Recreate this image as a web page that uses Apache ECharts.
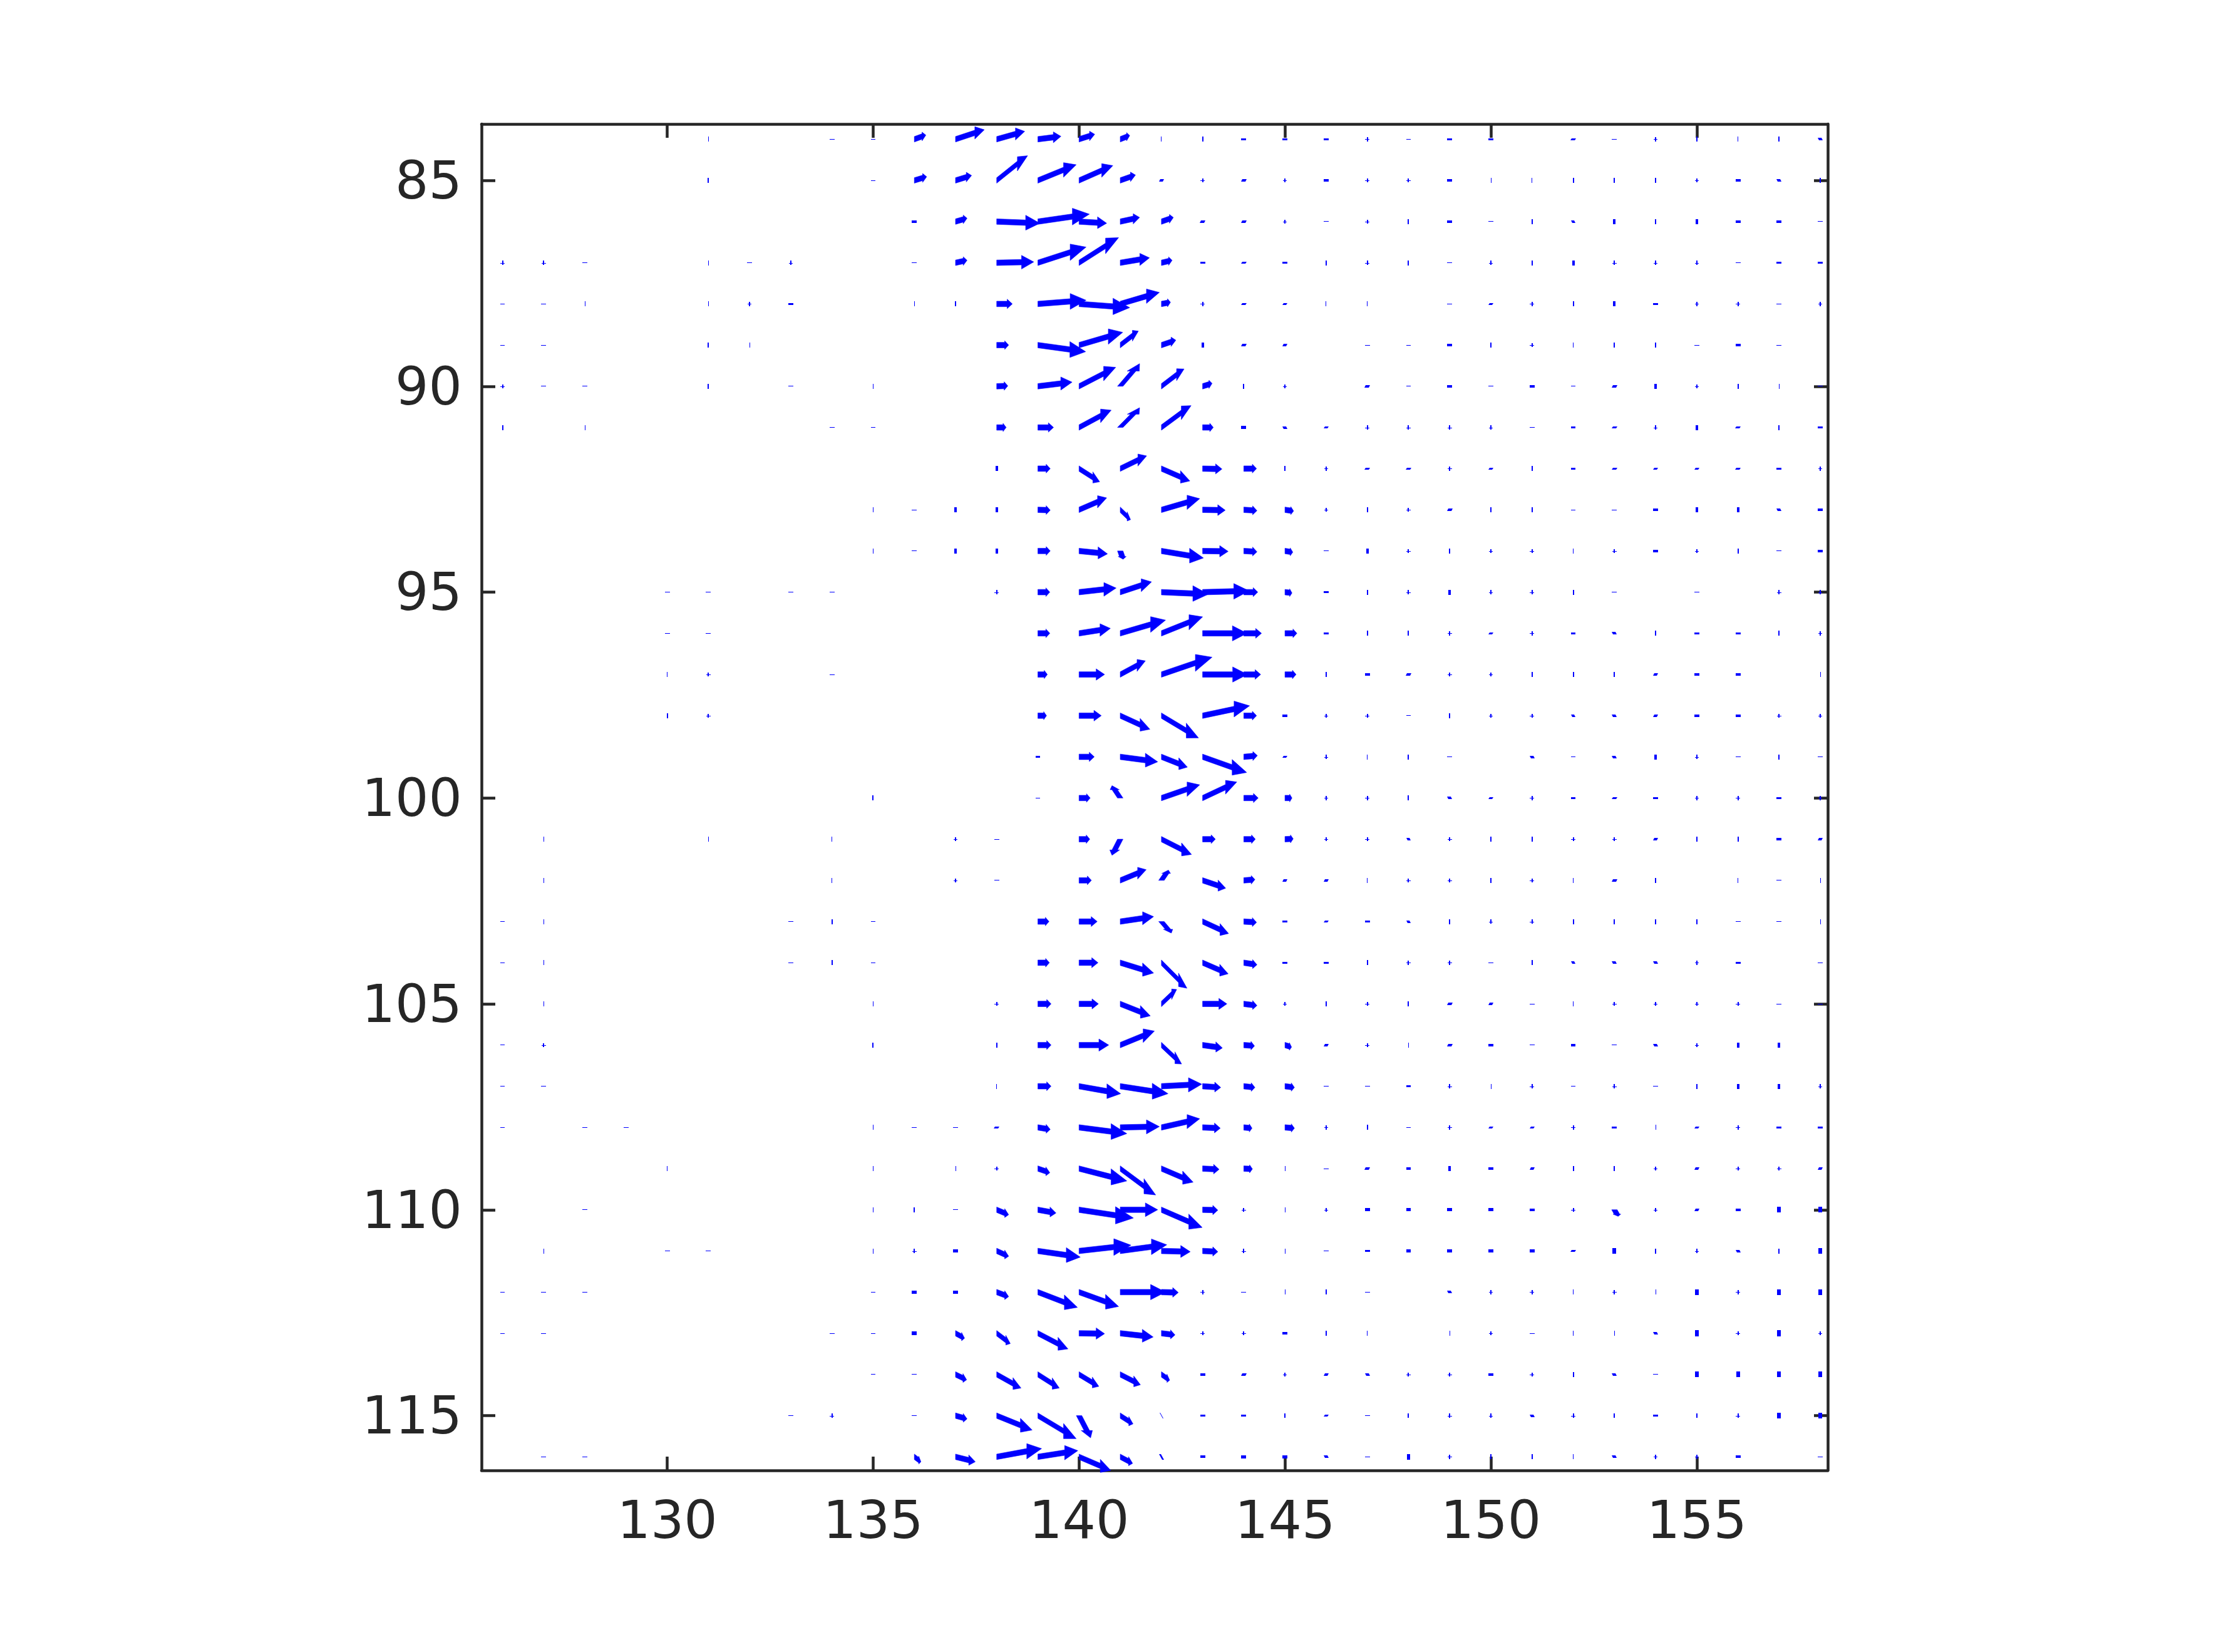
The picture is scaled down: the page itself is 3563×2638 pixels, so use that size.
<!DOCTYPE html>
<html><head><meta charset="utf-8">
<style>html,body{margin:0;padding:0;background:#fff}#c{width:3563px;height:2638px}</style>
<script src="https://cdn.jsdelivr.net/npm/echarts@6/dist/echarts.min.js"></script>
</head><body><div id="c"></div>
<script>
// Small vectors, in axis degrees [u, v]
const d=[.12,.015], b=[.015,.12], B=[.03,.12], s=[.12,.055], Q=[.12,.08], T=[.06,.12], U=[.09,.14], n=[.13,-.055], e=[-.12,.06], c=[.1,.1];

const xTicks=[130,135,140,145,150,155];
const yTicks=[85,90,95,100,105,110,115];
const xRange=[125.49,158.18];
const yRange=[83.63,116.33];

const lat84=[[131,b],[134,d],[135,d],[136,.28,-.10],[137,.70,-.23],[138,.68,-.19],[139,.56,-.07],[140,.38,-.12],[141,.23,-.09],[142,b],[143,B],[144,s],[145,s],[146,s],[147,c],[148,d],[149,s],[150,s],[152,n],[153,d],[154,c],[155,B],[156,b],[157,B],[158,e]];
const lat85=[[131,B],[135,d],[136,.30,-.09],[137,.39,-.12],[138,.75,-.60],[139,.93,-.38],[140,.82,-.36],[141,.37,-.13],[142,n],[143,c],[144,n],[145,c],[146,s],[147,c],[148,c],[149,s],[150,b],[151,b],[152,B],[153,B],[154,B],[155,c],[156,s],[157,e],[158,B]];
const lat86=[[136,s],[137,.28,-.08],[138,1.05,.04],[139,1.25,-.18],[140,.67,.04],[141,.47,-.10],[142,.29,-.10],[143,n],[144,n],[145,c],[146,d],[147,c],[148,B],[149,s],[150,d],[151,B],[152,e],[153,T],[154,B],[155,T],[156,s],[157,s],[158,d]];
const lat87=[[126,c],[127,c],[128,d],[131,b],[132,d],[133,c],[136,d],[137,.28,-.06],[138,.90,-.02],[139,1.17,-.38],[140,.96,-.61],[141,.71,-.12],[142,.26,-.06],[143,s],[144,n],[145,s],[146,B],[147,c],[148,B],[149,d],[150,c],[151,B],[152,T],[153,c],[154,c],[155,c],[156,d],[157,s],[158,s]];
const lat88=[[126,d],[127,d],[128,b],[131,b],[132,c],[133,s],[136,b],[137,B],[138,.38,0],[139,1.17,-.09],[140,1.23,.09],[141,.95,-.28],[142,.22,-.04],[143,c],[144,n],[145,n],[146,b],[147,b],[149,d],[150,n],[151,c],[152,B],[153,T],[154,s],[155,c],[156,c],[157,d],[158,c]];
const lat89=[[126,d],[127,d],[131,B],[132,b],[138,.29,0],[139,1.16,.16],[140,1.06,-.31],[141,.44,-.34],[142,.35,-.12],[143,T],[144,n],[145,n],[147,d],[148,d],[149,s],[150,B],[151,c],[152,b],[153,B],[154,B],[155,d],[156,s],[157,d]];
const lat90=[[126,c],[127,d],[128,d],[131,B],[133,d],[135,b],[138,.27,-.01],[139,.83,-.10],[140,.89,-.46],[141,.47,-.55],[142,.55,-.42],[143,.23,-.07],[144,B],[145,c],[147,n],[148,d],[149,s],[150,d],[151,s],[152,d],[153,n],[154,T],[155,c],[156,B],[157,b],[158,d]];
const lat91=[[126,B],[128,b],[134,d],[135,d],[138,.23,0],[139,.38,0],[140,.78,-.42],[141,.47,-.48],[142,.72,-.53],[143,.26,0],[144,Q],[145,e],[146,n],[147,c],[148,c],[149,c],[150,c],[151,d],[152,s],[153,n],[154,c],[155,T],[156,n],[157,B],[158,s]];
const lat92=[[138,T],[139,.30,0],[140,.50,.32],[141,.64,-.31],[142,.69,.30],[143,.47,.01],[144,.31,0],[145,B],[146,c],[147,n],[148,n],[149,c],[150,n],[151,B],[152,s],[153,n],[154,n],[155,n],[156,n],[157,s],[158,c]];
const lat93=[[135,b],[136,d],[137,T],[138,T],[139,.30,.01],[140,.67,-.29],[141,.25,.24],[142,.93,-.27],[143,.55,.01],[144,.32,.02],[145,.21,.03],[146,c],[147,B],[148,c],[149,n],[150,B],[151,B],[152,d],[153,d],[154,s],[155,T],[156,T],[157,e],[158,s]];
const lat94=[[135,b],[136,d],[137,T],[138,T],[139,.30,0],[140,.69,.07],[141,.07,.2],[142,1.02,.17],[143,.62,.01],[144,.32,.02],[145,.19,.03],[146,d],[147,T],[148,c],[149,B],[150,c],[151,c],[152,b],[153,c],[154,s],[155,c],[156,B],[157,d],[158,s]];
const lat95=[[130,d],[131,d],[133,d],[134,d],[138,c],[139,.29,0],[140,.90,-.10],[141,.76,-.25],[142,1.14,.05],[143,1.13,-.03],[144,.34,0],[145,.17,.02],[146,s],[147,B],[148,c],[149,T],[150,c],[151,c],[152,B],[153,d],[155,d],[157,c],[158,c]];
const lat96=[[130,d],[131,d],[139,.29,0],[140,.76,-.12],[141,1.10,-.32],[142,1.00,-.40],[143,1.08,0],[144,.43,0],[145,.29,0],[146,s],[147,B],[148,B],[149,c],[150,n],[151,c],[152,s],[153,e],[154,B],[155,s],[156,s],[157,B],[158,c]];
const lat97=[[130,b],[131,c],[134,d],[139,.23,0],[140,.62,0],[141,.61,-.33],[142,1.23,-.42],[143,1.09,0],[144,.41,0],[145,.27,0],[146,B],[147,s],[148,n],[149,c],[150,c],[151,B],[152,B],[153,B],[154,n],[155,s],[156,s],[158,b]];
const lat98=[[130,B],[131,c],[139,.21,0],[140,.54,0],[141,.72,.33],[142,.90,.54],[143,1.14,-.24],[144,.31,0],[145,s],[146,c],[147,c],[148,d],[149,B],[150,c],[151,c],[152,e],[153,e],[154,n],[155,s],[156,s],[157,c],[158,c]];
const lat99=[[139,s],[140,.37,0],[141,.91,.12],[142,.63,.25],[143,1.07,.38],[144,.33,-.03],[145,n],[146,c],[147,b],[148,B],[149,d],[151,e],[152,d],[153,e],[154,T],[155,c],[156,d],[157,B],[158,d]];
const lat100=[[135,B],[139,d],[140,.27,0],[141,-.20,-.30],[142,.93,-.32],[143,.83,-.39],[144,.35,0],[145,.17,0],[146,c],[147,c],[148,B],[149,e],[150,n],[151,c],[152,s],[153,n],[154,s],[155,c],[156,c],[157,s],[158,c]];
const lat101=[[127,b],[131,b],[134,b],[137,c],[138,d],[140,.26,0],[141,-.20,.39],[142,.73,.37],[143,.31,0],[144,.28,0],[145,.20,-.01],[146,c],[147,c],[148,e],[149,c],[150,B],[151,B],[152,c],[153,c],[154,n],[155,B],[156,B],[157,s],[158,n]];
const lat102=[[127,b],[134,b],[137,c],[138,d],[140,.30,0],[141,.63,-.26],[142,.17,-.25],[143,.56,.19],[144,.27,-.02],[145,n],[146,n],[147,b],[148,c],[149,c],[150,B],[151,c],[152,b],[153,n],[154,B],[156,b],[157,d],[158,b]];
const lat103=[[126,d],[127,b],[133,d],[134,B],[135,d],[139,.27,0],[140,.44,0],[141,.81,-.12],[142,.24,.28],[143,.63,.29],[144,.31,.02],[145,s],[146,n],[147,s],[148,e],[149,B],[150,c],[151,c],[152,B],[153,B],[154,B],[155,B],[156,d],[157,d],[158,b]];
const lat104=[[126,d],[127,b],[133,d],[134,B],[135,d],[139,.28,0],[140,.46,0],[141,.81,.25],[142,.62,.62],[143,.62,.27],[144,.32,.05],[145,s],[146,s],[147,B],[148,c],[149,c],[150,d],[151,B],[152,e],[153,e],[154,e],[155,c],[156,s],[158,d]];
const lat105=[[127,b],[135,b],[138,c],[139,.32,0],[140,.47,0],[141,.73,.29],[142,.37,-.35],[143,.59,0],[144,.32,.04],[145,c],[146,B],[147,c],[148,B],[149,n],[150,n],[151,d],[152,b],[153,c],[154,c],[155,c],[156,c],[157,d],[158,d]];
const lat106=[[126,d],[127,c],[135,B],[138,B],[139,.32,0],[140,.72,0],[141,.83,-.34],[142,.49,.46],[143,.48,.07],[144,.26,.02],[145,.16,.05],[146,n],[147,c],[148,b],[149,n],[150,s],[151,d],[152,s],[153,d],[154,e],[155,c],[156,T],[157,T]];
const lat107=[[126,d],[127,d],[138,b],[139,.32,0],[140,1.01,.18],[141,1.16,.18],[142,.98,-.05],[143,.44,.03],[144,.27,.03],[145,.23,.03],[146,d],[147,d],[148,s],[149,c],[150,b],[151,c],[152,d],[153,c],[154,d],[155,B],[156,T],[157,T],[158,c]];
const lat108=[[126,d],[128,d],[129,d],[135,b],[136,d],[137,d],[138,n],[139,.30,.05],[140,1.16,.15],[141,.95,-.02],[142,.93,-.21],[143,.43,.02],[144,.20,.02],[145,.23,.02],[146,c],[147,B],[148,d],[149,c],[150,n],[151,n],[152,c],[153,s],[154,b],[155,n],[156,c],[157,s],[158,s]];
const lat109=[[130,b],[135,b],[137,b],[138,c],[139,.29,.10],[140,1.16,.30],[141,.86,.64],[142,.77,.33],[143,.40,.02],[144,.21,.01],[145,b],[146,d],[147,n],[148,s],[149,T],[150,s],[151,n],[152,B],[153,B],[154,c],[155,n],[156,c],[157,c],[158,n]];
const lat110=[[128,d],[135,b],[136,B],[137,d],[138,.29,.12],[139,.44,.08],[140,1.32,.20],[141,.91,0],[142,.99,.43],[143,.37,.01],[144,c],[145,b],[146,c],[147,Q],[148,Q],[149,Q],[150,Q],[151,s],[152,c],[153,.09,.16],[154,c],[155,n],[156,s],[157,U],[158,U]];
const lat111=[[127,b],[130,d],[131,d],[135,b],[136,c],[137,Q],[138,.29,.13],[139,1.03,.15],[140,1.26,-.14],[141,1.13,-.15],[142,.70,.02],[143,.37,.02],[144,c],[145,b],[146,d],[147,s],[148,Q],[149,Q],[150,Q],[151,Q],[152,n],[153,U],[154,B],[155,c],[156,e],[157,B],[158,U]];
const lat112=[[126,d],[127,d],[128,d],[135,d],[136,Q],[137,Q],[138,.29,.11],[139,.96,.37],[140,.96,.35],[141,1.10,0],[142,.41,.01],[143,c],[144,d],[145,b],[146,B],[147,d],[149,e],[150,c],[151,c],[152,b],[153,c],[154,b],[155,U],[156,c],[157,U],[158,U]];
const lat113=[[126,d],[127,d],[134,d],[135,d],[136,Q],[137,.22,.12],[138,.33,.25],[139,.73,.38],[140,.62,.01],[141,.80,.09],[142,.33,.04],[143,c],[144,c],[145,s],[146,B],[147,b],[149,b],[150,c],[151,d],[152,b],[153,b],[154,e],[155,U],[156,c],[157,U],[158,c]];
const lat114=[[135,d],[136,d],[137,.27,.13],[138,.59,.33],[139,.52,.33],[140,.48,.29],[141,.49,.25],[142,.20,.14],[143,s],[144,n],[145,c],[146,n],[147,e],[148,c],[149,c],[150,s],[151,c],[152,B],[153,e],[154,d],[155,U],[156,U],[157,U],[158,U]];
const lat115=[[133,d],[134,c],[136,d],[137,.28,.08],[138,.86,.35],[139,.93,.56],[140,.28,.54],[141,.31,.20],[142,-.10,.14],[143,s],[144,s],[145,B],[146,n],[147,d],[148,B],[149,c],[150,c],[151,e],[152,c],[153,B],[154,s],[155,B],[156,c],[157,U],[158,U]];
const lat116=[[127,d],[128,d],[136,.16,.12],[137,.48,.12],[138,1.09,-.20],[139,.97,-.15],[140,.77,.33],[141,.30,.16],[142,-.12,.14],[143,s],[144,Q],[145,Q],[146,e],[147,d],[148,U],[149,c],[150,B],[151,B],[152,b],[153,e],[154,c],[155,c],[156,s],[158,d]];

const rows=[lat84,lat85,lat86,lat87,lat88,lat89,lat90,lat91,lat92,lat93,lat94,lat95,lat96,lat97,lat98,lat99,lat100,lat101,lat102,lat103,lat104,lat105,lat106,lat107,lat108,lat109,lat110,lat111,lat112,lat113,lat114,lat115,lat116];
const firstLat=84;
const vectors=[];
rows.forEach((row,i)=>row.forEach(r=>{
  const uv=Array.isArray(r[1])?r[1]:[r[1],r[2]];
  vectors.push([r[0],firstLat+i,uv[0],uv[1]]);
}));

const BLUE='#0000ff', INK='#262626';

function poly(pts){return {type:'polygon',shape:{points:pts},style:{fill:BLUE,stroke:BLUE,lineWidth:0.6},silent:true};}
function rect(pts){return {type:'polygon',shape:{points:pts},style:{fill:BLUE,stroke:null},silent:true};}

function tiny(api,lon,lat,u,v){
  const au=Math.abs(u), av=Math.abs(v);
  const a=api.coord([lon-au/2,lat-av/2]), z=api.coord([lon+au/2,lat+av/2]);
  const x0=Math.round(a[0]), x1=Math.max(x0+1,Math.round(z[0]));
  const y0=Math.round(a[1]), y1=Math.max(y0+1,Math.round(z[1]));
  if(au===av){ // a small cross
    const m=api.coord([lon,lat]), mx=Math.round(m[0]), my=Math.round(m[1]);
    return {type:'group',children:[
      rect([[x0,my],[x1,my],[x1,my+1],[x0,my+1]]),
      rect([[mx-1,y0],[mx+1,y0],[mx+1,y1],[mx-1,y1]])
    ]};
  }
  const h=y1-y0;
  if(v<0){const k=Math.round(h*.6);return rect([[x0,y1],[x1-k,y1],[x1,y0],[x0+k,y0]]);}
  if(u<0){const k=Math.round(h*.5);return rect([[x0,y0],[x1-k,y0],[x1,y1],[x0+k,y1]]);}
  return rect([[x0,y0],[x1,y0],[x1,y1],[x0,y1]]);
}

function arrow(p0,p1){
  const dx=p1[0]-p0[0], dy=p1[1]-p0[1], L=Math.hypot(dx,dy);
  const ux=dx/L, uy=dy/L;
  const m=Math.abs(dx)>=Math.abs(dy)?[0,1]:[1,0];
  const t=4.4, hw=(10+.2*L)/2, hl=.33*L;
  const hx=p1[0]-ux*hl, hy=p1[1]-uy*hl;
  return poly([
    [p0[0]-m[0]*t,p0[1]-m[1]*t],
    [hx-m[0]*t,hy-m[1]*t],
    [hx-m[0]*hw,hy-m[1]*hw],
    [p1[0],p1[1]],
    [hx+m[0]*hw,hy+m[1]*hw],
    [hx+m[0]*t,hy+m[1]*t],
    [p0[0]+m[0]*t,p0[1]+m[1]*t]
  ]);
}

function renderVector(params,api){
  const lon=api.value(0), lat=api.value(1), u=api.value(2), v=api.value(3);
  if(Math.abs(u)<=.14&&Math.abs(v)<=.14) return tiny(api,lon,lat,u,v);
  return arrow(api.coord([lon,lat]),api.coord([lon+u,lat+v]));
}

function xAxis(pos,labels){return {
  type:'value',position:pos,min:xRange[0],max:xRange[1],
  axisLine:{show:true,onZero:false,lineStyle:{color:INK,width:4.5}},
  axisTick:{show:true,inside:true,length:22,customValues:xTicks,lineStyle:{color:INK,width:4.5}},
  axisLabel:{show:labels,customValues:xTicks,color:INK,fontFamily:'DejaVu Sans',fontSize:84,margin:44},
  splitLine:{show:false}
};}
function yAxis(pos,labels){return {
  type:'value',position:pos,inverse:true,min:yRange[0],max:yRange[1],
  axisLine:{show:true,onZero:false,lineStyle:{color:INK,width:4.5}},
  axisTick:{show:true,inside:true,length:22,customValues:yTicks,lineStyle:{color:INK,width:4.5}},
  axisLabel:{show:labels,customValues:yTicks,margin:31,formatter:'{t|{value}}',
    rich:{t:{color:INK,fontFamily:'DejaVu Sans',fontSize:84,padding:[14,0,0,0]}}},
  splitLine:{show:false}
};}

const chart=echarts.init(document.getElementById('c'),null,{renderer:'canvas'});
chart.setOption({
  animation:false,
  backgroundColor:'#ffffff',
  grid:{left:769,top:198,width:2150,height:2150,containLabel:false},
  xAxis:[xAxis('bottom',true),xAxis('top',false)],
  yAxis:[yAxis('left',true),yAxis('right',false)],
  series:[{
    type:'custom',coordinateSystem:'cartesian2d',xAxisIndex:0,yAxisIndex:0,
    silent:true,clip:false,data:vectors,renderItem:renderVector,
    encode:{x:0,y:1},z:5
  }]
});
</script></body></html>
